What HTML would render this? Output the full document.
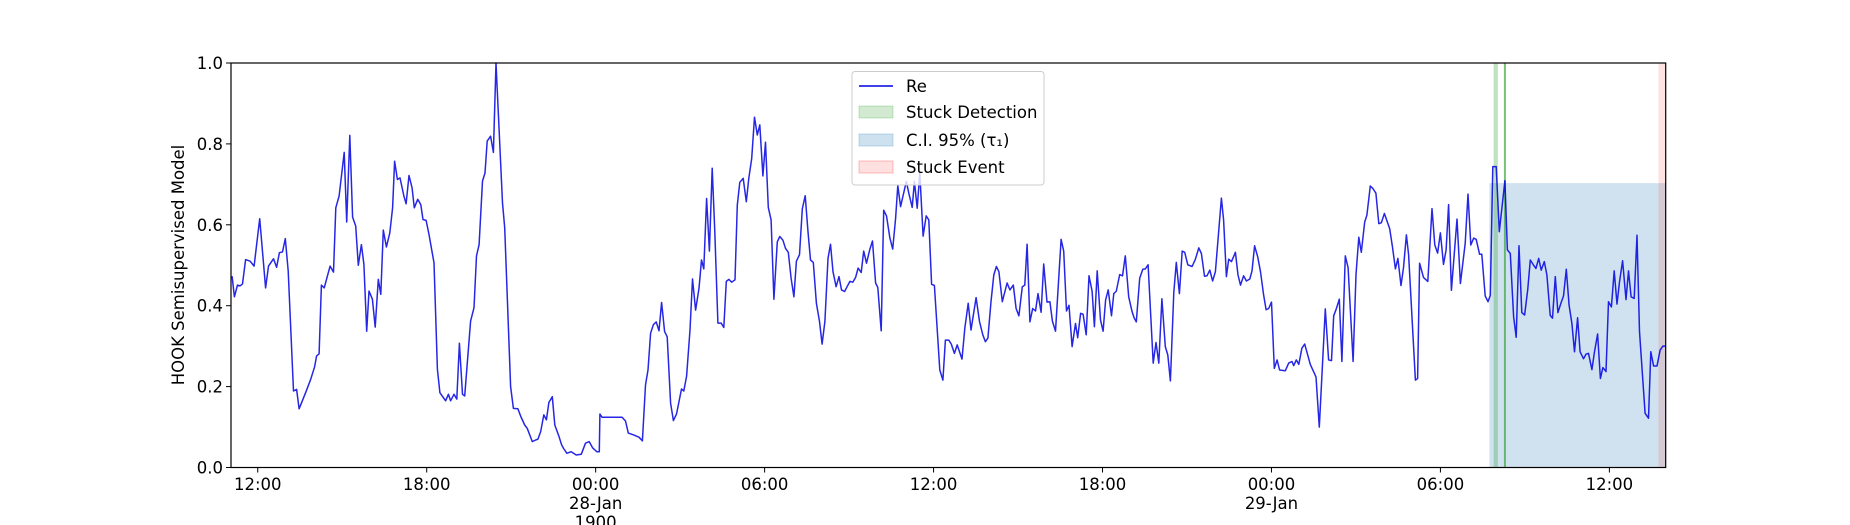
<!DOCTYPE html>
<html><head><meta charset="utf-8">
<style>
html,body{margin:0;padding:0;background:#fff;}
svg{display:block;font-family:"DejaVu Sans","Liberation Sans",sans-serif;}
</style></head>
<body>
<svg id="chart" width="1850" height="525" viewBox="0 0 1850 525" xmlns="http://www.w3.org/2000/svg"></svg>
<script>
// ---- data (hours since 27-Jan 00:00) ----
const times = [11.09,11.17,11.28,11.37,11.46,11.57,11.73,11.87,12.07,12.28,12.38,12.56,12.67,12.77,12.88,12.98,13.08,13.27,13.38,13.47,13.70,13.88,14.02,14.09,14.18,14.26,14.36,14.57,14.69,14.77,14.89,15.07,15.16,15.27,15.37,15.48,15.57,15.68,15.77,15.87,15.95,16.07,16.17,16.28,16.37,16.46,16.57,16.69,16.79,16.86,16.96,17.05,17.19,17.27,17.37,17.48,17.56,17.68,17.79,17.87,17.98,18.08,18.26,18.38,18.47,18.67,18.77,18.85,18.97,19.07,19.16,19.27,19.35,19.56,19.68,19.77,19.86,19.98,20.07,20.15,20.27,20.37,20.46,20.69,20.77,20.98,21.08,21.24,21.34,21.48,21.57,21.75,21.87,21.95,22.05,22.16,22.25,22.34,22.46,22.55,22.70,22.79,22.86,22.98,23.13,23.31,23.49,23.64,23.77,23.90,24.04,24.13,24.15,24.23,24.94,25.06,25.16,25.36,25.54,25.66,25.77,25.86,25.95,26.05,26.15,26.25,26.34,26.45,26.54,26.66,26.76,26.87,27.05,27.13,27.23,27.35,27.44,27.55,27.67,27.76,27.84,27.94,28.04,28.14,28.23,28.34,28.46,28.55,28.64,28.73,28.83,28.95,29.03,29.12,29.24,29.35,29.44,29.54,29.64,29.74,29.83,29.94,30.03,30.13,30.23,30.33,30.45,30.54,30.65,30.74,30.84,30.94,31.04,31.13,31.24,31.34,31.44,31.54,31.63,31.73,31.84,31.95,32.04,32.14,32.25,32.34,32.43,32.54,32.64,32.73,32.84,32.93,33.03,33.13,33.23,33.32,33.43,33.52,33.62,33.74,33.83,33.94,34.02,34.14,34.23,34.33,34.45,34.55,34.65,34.73,34.83,35.03,35.12,35.24,35.32,35.42,35.51,35.63,35.74,35.83,35.93,36.03,36.22,36.33,36.42,36.54,36.63,36.74,36.84,37.01,37.11,37.23,37.33,37.51,37.63,37.75,37.84,37.93,38.04,38.14,38.23,38.32,38.44,38.61,38.71,38.83,38.93,39.03,39.15,39.24,39.32,39.42,39.52,39.62,39.71,39.82,39.91,40.03,40.13,40.22,40.33,40.53,40.62,40.72,40.81,40.92,41.04,41.12,41.22,41.31,41.42,41.52,41.63,41.71,41.81,41.93,42.02,42.11,42.20,42.32,42.40,42.49,42.61,42.71,42.81,42.93,43.05,43.13,43.20,43.32,43.43,43.52,43.62,43.80,43.90,44.00,44.11,44.23,44.32,44.41,44.53,44.62,44.73,44.83,44.92,45.03,45.18,45.30,45.42,45.51,45.62,45.71,45.81,45.91,46.01,46.22,46.30,46.40,46.48,46.58,46.72,46.81,46.90,47.01,47.11,47.23,47.31,47.40,47.51,47.61,47.72,47.81,47.90,48.00,48.10,48.20,48.29,48.49,48.61,48.73,48.79,48.88,48.97,49.08,49.18,49.38,49.58,49.70,49.91,50.03,50.13,50.21,50.29,50.41,50.50,50.62,50.72,50.90,51.00,51.10,51.19,51.31,51.39,51.51,51.60,51.71,51.81,51.90,52.01,52.20,52.30,52.40,52.49,52.60,52.69,52.79,52.87,53.11,53.19,53.26,53.40,53.55,53.70,53.80,53.90,54.00,54.11,54.20,54.29,54.39,54.59,54.71,54.88,54.98,55.08,55.18,55.27,55.39,55.47,55.59,55.69,55.77,55.86,55.98,56.09,56.29,56.38,56.48,56.60,56.69,56.79,56.89,56.99,57.10,57.19,57.29,57.39,57.49,57.58,57.69,57.78,57.90,57.98,58.08,58.17,58.28,58.37,58.47,58.57,58.67,58.76,58.87,58.96,59.08,59.17,59.26,59.38,59.47,59.58,59.68,59.77,59.88,59.97,60.07,60.17,60.27,60.36,60.47,60.59,60.68,60.77,60.88,60.98,61.07,61.18,61.27,61.39,61.47,61.57,61.69,61.80,61.90,61.99];
const values = [0.473,0.422,0.451,0.449,0.454,0.514,0.510,0.498,0.615,0.444,0.498,0.516,0.495,0.531,0.533,0.566,0.486,0.189,0.193,0.145,0.185,0.218,0.249,0.276,0.281,0.451,0.444,0.498,0.483,0.642,0.671,0.779,0.607,0.821,0.619,0.597,0.500,0.551,0.502,0.337,0.436,0.416,0.347,0.465,0.428,0.587,0.545,0.580,0.642,0.757,0.712,0.716,0.671,0.652,0.722,0.691,0.642,0.663,0.650,0.613,0.611,0.576,0.506,0.243,0.185,0.165,0.181,0.165,0.181,0.169,0.307,0.181,0.177,0.362,0.395,0.523,0.551,0.708,0.728,0.807,0.819,0.779,1.0,0.654,0.593,0.200,0.146,0.145,0.126,0.105,0.097,0.064,0.068,0.070,0.089,0.130,0.118,0.161,0.175,0.105,0.076,0.056,0.047,0.035,0.039,0.031,0.033,0.060,0.064,0.048,0.039,0.039,0.132,0.124,0.124,0.115,0.085,0.080,0.075,0.066,0.204,0.241,0.332,0.353,0.360,0.338,0.408,0.336,0.323,0.159,0.116,0.132,0.194,0.189,0.226,0.340,0.466,0.389,0.443,0.513,0.491,0.665,0.535,0.740,0.583,0.357,0.357,0.346,0.460,0.465,0.458,0.464,0.649,0.705,0.715,0.657,0.715,0.764,0.866,0.822,0.847,0.721,0.804,0.643,0.612,0.416,0.558,0.571,0.562,0.542,0.532,0.468,0.422,0.510,0.526,0.639,0.672,0.583,0.513,0.507,0.406,0.361,0.305,0.361,0.517,0.552,0.484,0.447,0.472,0.439,0.435,0.447,0.460,0.458,0.470,0.493,0.482,0.535,0.505,0.540,0.560,0.456,0.445,0.338,0.636,0.622,0.567,0.540,0.616,0.697,0.645,0.707,0.678,0.643,0.707,0.641,0.728,0.572,0.622,0.612,0.453,0.450,0.241,0.216,0.315,0.315,0.305,0.282,0.303,0.268,0.344,0.406,0.340,0.420,0.361,0.328,0.311,0.320,0.410,0.476,0.497,0.484,0.410,0.456,0.439,0.451,0.393,0.375,0.447,0.451,0.552,0.360,0.393,0.387,0.430,0.384,0.503,0.409,0.410,0.362,0.337,0.564,0.535,0.387,0.401,0.299,0.356,0.321,0.381,0.379,0.328,0.474,0.436,0.348,0.486,0.365,0.337,0.414,0.439,0.375,0.430,0.436,0.477,0.474,0.523,0.422,0.385,0.369,0.360,0.468,0.490,0.491,0.501,0.258,0.309,0.258,0.417,0.299,0.278,0.214,0.433,0.507,0.430,0.535,0.532,0.501,0.497,0.515,0.543,0.529,0.473,0.474,0.488,0.461,0.484,0.666,0.612,0.472,0.515,0.509,0.532,0.476,0.451,0.474,0.461,0.466,0.486,0.548,0.521,0.484,0.427,0.390,0.393,0.409,0.245,0.266,0.241,0.239,0.258,0.262,0.252,0.266,0.255,0.295,0.305,0.255,0.224,0.100,0.392,0.266,0.264,0.375,0.390,0.416,0.262,0.523,0.494,0.262,0.477,0.569,0.532,0.607,0.624,0.696,0.690,0.678,0.603,0.605,0.628,0.590,0.543,0.491,0.517,0.450,0.494,0.575,0.526,0.216,0.220,0.505,0.47,0.46,0.64,0.55,0.53,0.580,0.502,0.538,0.650,0.438,0.614,0.455,0.554,0.676,0.550,0.567,0.564,0.527,0.527,0.424,0.410,0.426,0.744,0.744,0.583,0.709,0.538,0.529,0.373,0.322,0.548,0.383,0.377,0.439,0.513,0.502,0.492,0.517,0.488,0.509,0.476,0.376,0.369,0.472,0.383,0.406,0.424,0.490,0.401,0.356,0.286,0.370,0.286,0.269,0.280,0.282,0.242,0.286,0.330,0.220,0.247,0.237,0.410,0.397,0.486,0.404,0.459,0.511,0.415,0.486,0.422,0.418,0.574,0.336,0.224,0.134,0.122,0.286,0.251,0.251,0.290,0.300,0.300];
const tickHours = [12,18,24,30,36,42,48,54,60];
const tickLabels = ["12:00","18:00","00:00","06:00","12:00","18:00","00:00","06:00","12:00"];
const yTicks = [0.0,0.2,0.4,0.6,0.8,1.0];
const ciSpan = [55.74,62.01];
const ciTop = [0.703];
const detectBand = [55.89,56.04];
const detectLine = [56.29];
const eventSpan = [61.74,62.01];
const xDomain = [11.05,62.0];

const L=231,R=1665.7,T=63,B=467.5;
const NS="http://www.w3.org/2000/svg";
const svg=document.getElementById('chart');
const X=h=>L+(h-xDomain[0])/(xDomain[1]-xDomain[0])*(R-L);
const Y=v=>B-v*(B-T);
function mk(tag,attrs,parent){const e=document.createElementNS(NS,tag);for(const k in attrs)e.setAttribute(k,attrs[k]);(parent||svg).appendChild(e);return e;}

let r=mk('rect',{x:X(ciSpan[0]),y:Y(ciTop[0]),width:R-X(ciSpan[0]),height:B-Y(ciTop[0]),fill:'#1f77b4','fill-opacity':0.21});


r=mk('rect',{x:X(eventSpan[0]),y:T,width:R-X(eventSpan[0]),height:B-T,fill:'#ff0000','fill-opacity':0.11});


r=mk('rect',{x:X(detectBand[0]),y:T,width:X(detectBand[1])-X(detectBand[0]),height:B-T,fill:'#2ca02c','fill-opacity':0.3});


r=mk('line',{x1:X(detectLine[0]),x2:X(detectLine[0]),y1:T,y2:B,stroke:'#2ca02c','stroke-opacity':0.65,'stroke-width':2});



let d='';
for(let i=0;i<times.length;i++){d+=(i?'L':'M')+X(times[i]).toFixed(1)+','+Y(values[i]).toFixed(1);}
const line=mk('path',{d:d,fill:'none',stroke:'#0000e0','stroke-opacity':0.85,'stroke-width':1.5,'stroke-linejoin':'round'});



const fr=mk('rect',{x:L,y:T,width:R-L,height:B-T,fill:'none',stroke:'#000','stroke-width':1.2});



yTicks.forEach(v=>{
  const t=mk('line',{x1:L-5,x2:L,y1:Y(v),y2:Y(v),stroke:'#000','stroke-width':1});
  
  
  const tx=mk('text',{x:L-8,y:Y(v)+6,'text-anchor':'end','font-size':16.5,fill:'#000'});
  tx.textContent=v.toFixed(1);
  
  
});
tickHours.forEach((h,i)=>{
  const t=mk('line',{x1:X(h),x2:X(h),y1:B,y2:B+5,stroke:'#000','stroke-width':1});
  
  
  const tx=mk('text',{x:X(h),y:490,'text-anchor':'middle','font-size':16.5,fill:'#000'});
  tx.textContent=tickLabels[i];
  
  
});
[[24,"28-Jan"],[48,"29-Jan"]].forEach(p=>{
  const tx=mk('text',{x:X(p[0]),y:509,'text-anchor':'middle','font-size':16.5,fill:'#000'});
  tx.textContent=p[1];
  
  
});
const yr=mk('text',{x:X(24),y:528,'text-anchor':'middle','font-size':16.5,fill:'#000'});
yr.textContent="1900";



const yl=mk('text',{x:0,y:0,'text-anchor':'middle','font-size':16.5,fill:'#000',transform:'translate(184,265) rotate(-90)'});
yl.textContent="HOOK Semisupervised Model";



const lg=mk('g',{});


mk('rect',{x:852,y:71.5,width:192,height:113.5,rx:3,fill:'#fff','fill-opacity':0.8,stroke:'#ccc','stroke-width':1},lg);
const entries=[["Re","line",'#0000e0',86],["Stuck Detection","patch",'#2ca02c',112],["C.I. 95% (τ₁)","patch",'#1f77b4',140],["Stuck Event","patch",'#ff0000',167]];
entries.forEach(e=>{
  const g=mk('g',{},lg);
  
  
  if(e[1]==='line'){mk('line',{x1:859,x2:893,y1:e[3],y2:e[3],stroke:e[2],'stroke-width':1.5},g);}
  else{mk('rect',{x:859,y:e[3]-6,width:34,height:12,fill:e[2],'fill-opacity':e[2]==='#ff0000'?0.12:0.22,stroke:e[2],'stroke-opacity':0.25},g);}
  const t=mk('text',{x:906,y:e[3]+6,'font-size':16.5,fill:'#000'},g);
  t.textContent=e[0];
});
</script>
</body></html>
